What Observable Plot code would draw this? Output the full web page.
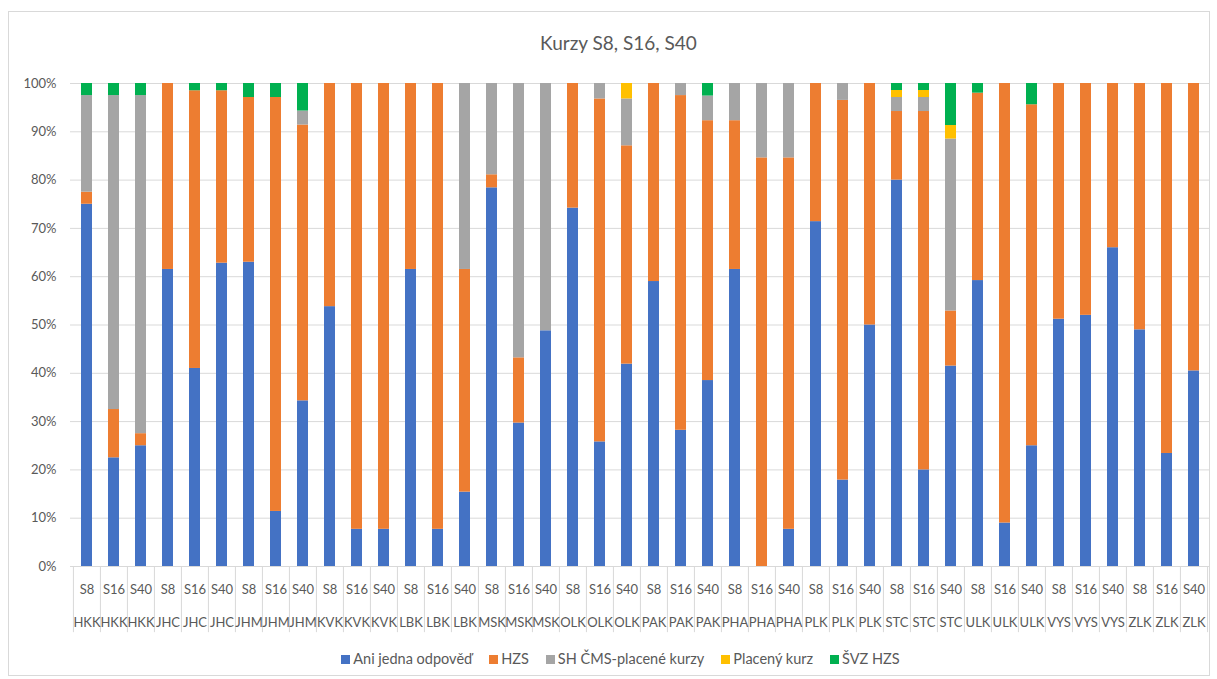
<!DOCTYPE html>
<html><head><meta charset="utf-8">
<script src="https://cdn.jsdelivr.net/npm/d3@7"></script>
<script src="https://cdn.jsdelivr.net/npm/@observablehq/plot@0.6"></script>
<style>
body{margin:0;background:#fff;font-family:Lato,sans-serif;}
#wrap{position:relative;width:1217px;height:679px;overflow:hidden;background:#fff;}
#frame{position:absolute;left:8px;top:11px;width:1202px;height:665px;border:1px solid #d9d9d9;box-sizing:border-box;}
#title{position:absolute;left:0;width:1237px;top:32px;text-align:center;font-size:19px;color:#595959;line-height:22px;}
#chart{position:absolute;left:0;top:70px;}
#legend{position:absolute;left:0;width:1241px;top:650px;display:flex;justify-content:center;gap:17px;font-size:14.5px;color:#595959;line-height:18px;}
.item{display:flex;align-items:center;gap:3px;}
.sw{width:9px;height:9px;display:inline-block;}
</style></head>
<body>
<div id="wrap">
<div id="frame"></div>
<div id="title">Kurzy S8, S16, S40</div>
<div id="chart"></div>
<div id="legend"></div>
</div>
<script>
const regions = ["HKK","JHC","JHM","KVK","LBK","MSK","OLK","PAK","PHA","PLK","STC","ULK","VYS","ZLK"];
const courses = ["S8","S16","S40"];
const seriesNames = ["Ani jedna odpověď","HZS","SH ČMS-placené kurzy","Placený kurz","ŠVZ HZS"];
const seriesColors = ["#4472C4","#ED7D31","#A5A5A5","#FFC000","#00B050"];
const yTicks = [0,10,20,30,40,50,60,70,80,90,100];

// values per bar, order: HKK S8,S16,S40, JHC ..., ZLK
const aniJedna = [75.0,22.5,25.0, 61.5,41.0,62.8, 63.0,11.4,34.3, 53.8,7.7,7.7, 61.5,7.7,15.4, 78.4,29.7,48.8, 74.2,25.8,41.9, 59.0,28.2,38.5, 61.5,0,7.7, 71.4,17.9,50.0, 80.0,20.0,41.5, 59.2,9.0,25.0, 51.2,52.0,66.0, 49.0,23.4,40.5];
const hzs      = [2.5,10.0,2.5, 38.5,57.5,35.7, 34.1,85.7,57.1, 46.2,92.3,92.3, 38.5,92.3,46.1, 2.7,13.5,0, 25.8,71.0,45.2, 41.0,69.3,53.8, 30.8,84.6,76.9, 28.6,78.6,50.0, 14.2,74.2,11.4, 38.8,91.0,70.6, 48.8,48.0,34.0, 51.0,76.6,59.5];
const shCms    = [20.0,65.0,70.0, 0,0,0, 0,0,2.9, 0,0,0, 0,0,38.5, 18.9,56.8,51.2, 0,3.2,9.7, 0,2.5,5.1, 7.7,15.4,15.4, 0,3.5,0, 2.9,2.9,35.6, 0,0,0, 0,0,0, 0,0,0];
const placeny  = [0,0,0, 0,0,0, 0,0,0, 0,0,0, 0,0,0, 0,0,0, 0,0,3.2, 0,0,0, 0,0,0, 0,0,0, 1.45,1.45,2.8, 0,0,0, 0,0,0, 0,0,0];
const svzHzs   = [2.5,2.5,2.5, 0,1.5,1.5, 2.9,2.9,5.7, 0,0,0, 0,0,0, 0,0,0, 0,0,0, 0,0,2.6, 0,0,0, 0,0,0, 1.45,1.45,8.7, 2.0,0,4.4, 0,0,0, 0,0,0];

const keys = regions.flatMap(r => courses.map(c => r + "|" + c));
const seriesValues = [aniJedna, hzs, shCms, placeny, svzHzs];
const data = [];
keys.forEach((k, i) => seriesNames.forEach((s, j) => data.push({key: k, series: s, value: seriesValues[j][i]})));

const W = 1217, ML = 70, MR = 7;
const step = (W - ML - MR) / keys.length;
const below = -13.7; // separator depth below the axis, in y units

const chart = Plot.plot({
  width: W, height: 566,
  marginTop: 13, marginBottom: 70, marginLeft: ML, marginRight: MR,
  style: {fontFamily: "Lato, sans-serif", fontSize: "13px", color: "#595959", background: "transparent"},
  x: {type: "band", domain: keys, paddingInner: 0.6, paddingOuter: 0.3, axis: null},
  y: {domain: [0, 100], axis: null},
  color: {domain: seriesNames, range: seriesColors},
  marks: [
    Plot.gridY(yTicks, {stroke: "#d9d9d9", strokeOpacity: 1, strokeWidth: 1}),
    Plot.axisY(yTicks, {tickFormat: d => d + "%", tickSize: 0, tickPadding: 14, fill: "#595959", fontSize: 13, label: null}),
    Plot.barY(data, {x: "key", y: "value", fill: "series", z: "series", order: seriesNames}),
    Plot.ruleX(keys, {x: d => d, y1: 0, y2: below, dx: -step / 2, stroke: "#d9d9d9", strokeWidth: 1}),
    Plot.ruleX(keys.slice(-1), {x: d => d, y1: 0, y2: below, dx: step / 2, stroke: "#d9d9d9", strokeWidth: 1}),
    Plot.text(keys, {x: d => d, frameAnchor: "bottom", dy: 23, lineAnchor: "middle", text: d => d.split("|")[1], fill: "#595959", fontSize: 13}),
    Plot.text(keys, {x: d => d, frameAnchor: "bottom", dy: 56, lineAnchor: "middle", text: d => d.split("|")[0], fill: "#595959", fontSize: 13})
  ]
});
document.getElementById("chart").appendChild(chart);

const legend = document.getElementById("legend");
seriesNames.forEach((s, i) => {
  const item = document.createElement("div");
  item.className = "item";
  const sw = document.createElement("span");
  sw.className = "sw";
  sw.style.background = seriesColors[i];
  const t = document.createElement("span");
  t.textContent = s;
  item.appendChild(sw); item.appendChild(t);
  legend.appendChild(item);
});
</script>
</body></html>
